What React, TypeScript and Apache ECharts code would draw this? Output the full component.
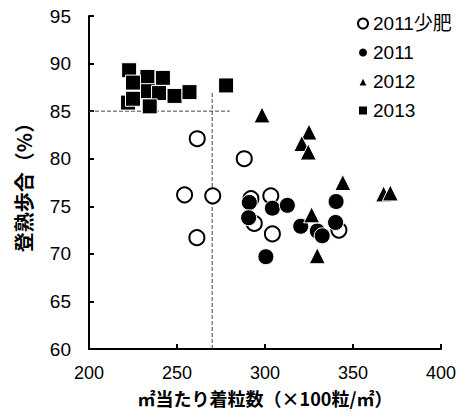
import React, { useEffect, useRef } from "react";
import * as echarts from "echarts";

// 2011少肥 (open circles): [grain number (×100/㎡), ripening ratio (%)]
const lowFert2011: number[][] = [
  [261.5, 82.1], [288.2, 80.0], [254.3, 76.2], [270.3, 76.1], [261.3, 71.7],
  [292.0, 75.8], [303.3, 76.1], [293.9, 73.2], [304.2, 72.1], [342.0, 72.5],
];
// 2011 (filled circles)
const data2011: number[][] = [
  [291.1, 75.4], [304.2, 74.8], [312.7, 75.1], [290.7, 73.8], [300.5, 69.7],
  [320.3, 72.9], [340.4, 75.5], [340.1, 73.3], [329.7, 72.4], [332.5, 71.9],
];
// 2012 (triangles)
const data2012: number[][] = [
  [298.3, 84.6], [325.0, 82.8], [320.9, 81.6], [324.6, 80.7], [344.2, 77.5],
  [367.4, 76.3], [371.2, 76.4], [326.5, 74.1], [329.7, 69.8],
];
// 2013 (squares)
const data2013: number[][] = [
  [222.8, 89.3], [233.2, 88.6], [242.0, 88.5], [225.0, 88.0], [233.5, 87.1],
  [239.8, 86.9], [248.6, 86.6], [257.1, 87.0], [222.2, 85.9], [225.0, 86.3],
  [234.5, 85.5], [277.9, 87.7],
];
// dashed guide lines
const guideH: number[][] = [[200, 85], [280, 85]];
const guideV: number[][] = [[270, 60], [270, 87]];

const xTicks = { min: 200, max: 400, interval: 50 };
const yTicks = { min: 60, max: 95, interval: 5 };
const seriesNames = ["2011少肥", "2011", "2012", "2013"];

export default function App() {
  const ref = useRef<HTMLDivElement>(null);
  useEffect(() => {
    if (!ref.current) return;
    const chart = echarts.init(ref.current, undefined, { renderer: "svg" });
    const latin = "'Liberation Sans', 'Noto Sans CJK JP', sans-serif";
    const cjk = "'Noto Sans CJK JP', sans-serif";
    const guideStyle = { color: "#444", width: 1, type: "dashed" as const };
    chart.setOption({
      animation: false,
      backgroundColor: "#fff",
      grid: { left: 89, right: 19, top: 16, bottom: 69, containLabel: false },
      legend: {
        data: seriesNames,
        orient: "vertical",
        left: 352,
        top: 9,
        itemWidth: 10,
        itemHeight: 10,
        itemGap: 10,
        textStyle: { fontSize: 19, fontFamily: latin, color: "#000" },
      },
      xAxis: {
        type: "value",
        ...xTicks,
        name: "㎡当たり着粒数（×100粒/㎡）",
        nameLocation: "middle",
        nameGap: 40,
        nameTextStyle: { fontSize: 18, fontWeight: "bold", fontFamily: cjk, color: "#000" },
        axisLine: { lineStyle: { color: "#000", width: 2 } },
        axisTick: { inside: true, length: 5, lineStyle: { color: "#000", width: 2 } },
        axisLabel: { fontSize: 18, fontFamily: latin, color: "#000", margin: 15 },
        splitLine: { show: false },
      },
      yAxis: {
        type: "value",
        ...yTicks,
        name: "登熟歩合（%）",
        nameLocation: "middle",
        nameGap: 56,
        nameTextStyle: { fontSize: 20, fontWeight: "bold", fontFamily: cjk, color: "#000" },
        axisLine: { lineStyle: { color: "#000", width: 2 } },
        axisTick: { inside: true, length: 5, lineStyle: { color: "#000", width: 2 } },
        axisLabel: { fontSize: 19, fontFamily: latin, color: "#000", margin: 18 },
        splitLine: { show: false },
      },
      series: [
        {
          type: "line", data: guideH, symbol: "none", silent: true,
          lineStyle: guideStyle, z: 1,
        },
        {
          type: "line", data: guideV, symbol: "none", silent: true,
          lineStyle: guideStyle, z: 1,
        },
        {
          name: seriesNames[0], type: "scatter", data: lowFert2011,
          symbol: "circle", symbolSize: 15, z: 2,
          itemStyle: { color: "#fff", borderColor: "#000", borderWidth: 2, opacity: 1 },
        },
        {
          name: seriesNames[1], type: "scatter", data: data2011,
          symbol: "circle", symbolSize: 16, z: 3,
          itemStyle: { color: "#000", borderColor: "#fff", borderWidth: 1, opacity: 1 },
        },
        {
          name: seriesNames[2], type: "scatter", data: data2012,
          symbol: "triangle", symbolSize: 16, z: 4,
          itemStyle: { color: "#000", borderColor: "#fff", borderWidth: 1, opacity: 1 },
        },
        {
          name: seriesNames[3], type: "scatter", data: data2013,
          symbol: "rect", symbolSize: 15, z: 5,
          itemStyle: { color: "#000", borderColor: "#fff", borderWidth: 1, opacity: 1 },
        },
      ],
    });
    return () => chart.dispose();
  }, []);
  return (
    <div
      ref={ref}
      style={{ position: "fixed", left: 0, top: 0, width: 460, height: 418, background: "#fff" }}
    />
  );
}
